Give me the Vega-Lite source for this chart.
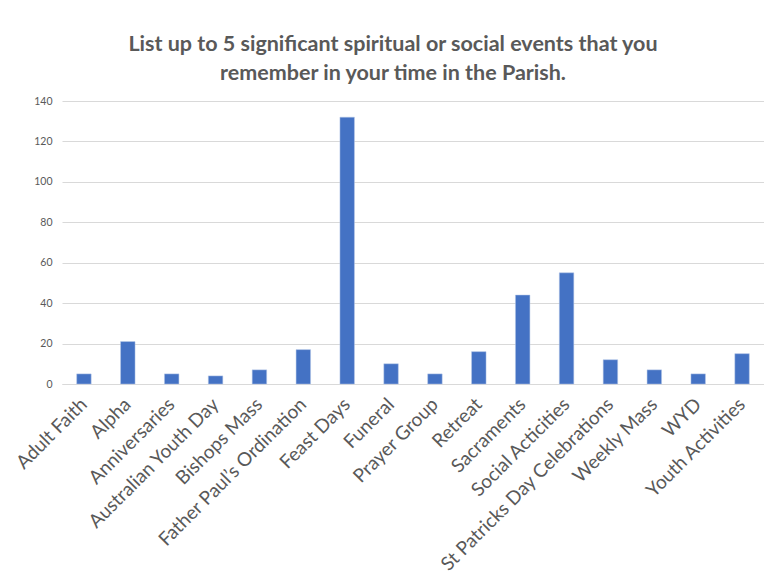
{
  "$schema": "https://vega.github.io/schema/vega-lite/v6.json",
  "autosize": "none",
  "padding": {"left": 62, "top": 101, "right": 0, "bottom": 199},
  "width": 702,
  "height": 283,
  "background": "white",
  "title": {
    "text": ["List up to 5 significant spiritual or social events that you", "remember in your time in the Parish."],
    "font": "Lato",
    "fontSize": 21.5,
    "fontWeight": "bold",
    "color": "#595959",
    "lineHeight": 29,
    "anchor": "middle",
    "frame": "group",
    "dx": -20,
    "offset": 12
  },
  "data": {
    "values": [
      {"event": "Adult Faith", "count": 5},
      {"event": "Alpha", "count": 21},
      {"event": "Anniversaries", "count": 5},
      {"event": "Australian Youth Day", "count": 4},
      {"event": "Bishops Mass", "count": 7},
      {"event": "Father Paul’s Ordination", "count": 17},
      {"event": "Feast Days", "count": 132},
      {"event": "Funeral", "count": 10},
      {"event": "Prayer Group", "count": 5},
      {"event": "Retreat", "count": 16},
      {"event": "Sacraments", "count": 44},
      {"event": "Social Acticities", "count": 55},
      {"event": "St Patricks Day Celebrations", "count": 12},
      {"event": "Weekly Mass", "count": 7},
      {"event": "WYD", "count": 5},
      {"event": "Youth Activities", "count": 15}
    ]
  },
  "mark": {"type": "bar", "color": "#4472C4", "stroke": "#b4c7e7", "strokeWidth": 0.5},
  "encoding": {
    "x": {
      "field": "event",
      "type": "nominal",
      "sort": null,
      "scale": {"paddingInner": 0.67, "paddingOuter": 0.335},
      "axis": {
        "title": null,
        "labelAngle": -45,
        "labelAlign": "right",
        "labelBaseline": "middle",
        "labelFont": "Lato",
        "labelFontSize": 19,
        "labelColor": "#595959",
        "labelPadding": 17,
        "ticks": false,
        "domainColor": "#d9d9d9",
        "domainWidth": 1,
        "labelOverlap": false,
        "labelLimit": 0
      }
    },
    "y": {
      "field": "count",
      "type": "quantitative",
      "scale": {"domain": [0, 140], "nice": false},
      "axis": {
        "title": null,
        "values": [0, 20, 40, 60, 80, 100, 120, 140],
        "domain": false,
        "ticks": false,
        "labelFont": "Lato",
        "labelFontSize": 10.5,
        "labelColor": "#595959",
        "labelPadding": 10,
        "gridColor": "#d9d9d9",
        "gridWidth": 1
      }
    }
  },
  "config": {"view": {"stroke": null}}
}
